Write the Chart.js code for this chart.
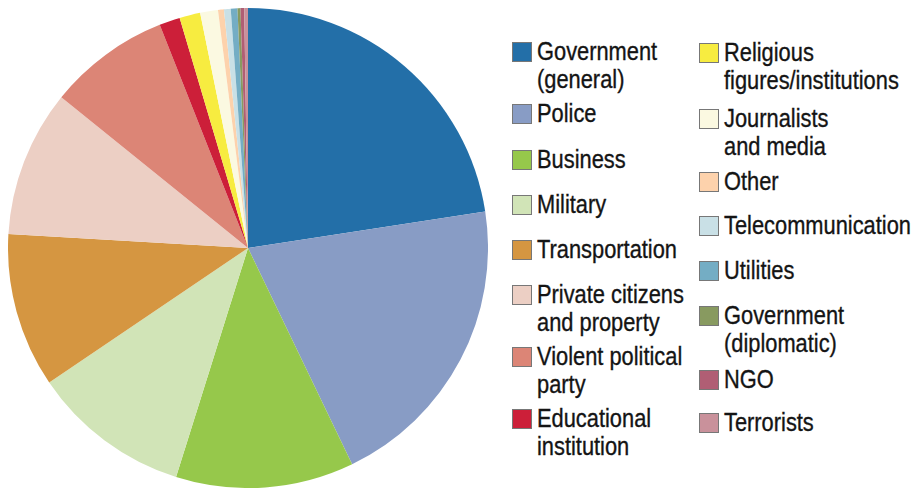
<!DOCTYPE html>
<html>
<head>
<meta charset="utf-8">
<script src="https://cdn.jsdelivr.net/npm/chart.js@4/dist/chart.umd.min.js"></script>
<style>
  html, body { margin: 0; padding: 0; background: #fff; }
  body { width: 918px; height: 488px; position: relative; overflow: hidden; }
  #pie-box { position: absolute; left: 8px; top: 8px; width: 480px; height: 480px; }
  .leg-item { position: absolute; display: flex; align-items: flex-start;
    font-family: "Liberation Sans", Arial, sans-serif;
    font-size: 26px; line-height: 27.5px; color: #141414; white-space: nowrap; }
  .leg-swatch { width: 18px; height: 18px; border: 1px solid #777; margin-top: 4px; margin-right: 5px; flex: none; }
  /* narrow face: compress regular Arial metrics horizontally */
  .leg-text { transform: scaleX(0.84); transform-origin: 0 0; -webkit-text-stroke: 0.35px #141414; }
</style>
</head>
<body>
<div id="pie-box"><canvas id="pieChart"></canvas></div>
<div id="legend"></div>
<script>
// share of targets by category (percent)
var categorias = [
  ['Government', '(general)'], 'Police', 'Business', 'Military', 'Transportation',
  ['Private citizens', 'and property'], ['Violent political', 'party'],
  ['Educational', 'institution'], ['Religious', 'figures/institutions'],
  ['Journalists', 'and media'], 'Other', 'Telecommunication', 'Utilities',
  ['Government', '(diplomatic)'], 'NGO', 'Terrorists'
];
var valores = [22.6, 20.3, 12.0, 10.7, 10.4, 9.9, 8.2, 1.4, 1.4, 1.2, 0.4, 0.45, 0.45, 0.2, 0.25, 0.25];
var cores = [
  '#236fa8', '#889cc5', '#96c84b', '#d1e4b7', '#d59641', '#eccfc4', '#dc8576', '#cc1f39',
  '#f7ec40', '#fbf9e1', '#fdd2ac', '#c9e0e6', '#74adc4', '#889a60', '#b05e74', '#c9919b'
];

// legend layout: two columns, 8 entries each
var colunasX = [512, 699];
var linhasY = [
  [42, 104, 150, 195, 240, 285, 347, 409],
  [43, 109, 172, 216, 261, 306, 370, 413]
];

var legenda = document.getElementById('legend');
categorias.forEach(function (cat, i) {
  var col = i < 8 ? 0 : 1;
  var row = i % 8;
  var item = document.createElement('div');
  item.className = 'leg-item';
  item.style.left = colunasX[col] + 'px';
  item.style.top = (linhasY[col][row] - 4) + 'px';
  var sw = document.createElement('div');
  sw.className = 'leg-swatch';
  sw.style.background = cores[i];
  var txt = document.createElement('div');
  txt.className = 'leg-text';
  txt.innerHTML = (Array.isArray(cat) ? cat : [cat]).join('<br>');
  item.appendChild(sw);
  item.appendChild(txt);
  legenda.appendChild(item);
});

var ctx = document.getElementById('pieChart').getContext('2d');
var meuGrafico = new Chart(ctx, {
  type: 'pie',
  data: {
    labels: categorias,
    datasets: [{
      data: valores,
      backgroundColor: cores,
      borderWidth: 0,
      hoverOffset: 0
    }]
  },
  options: {
    responsive: true,
    maintainAspectRatio: false,
    animation: false,
    layout: { padding: 0 },
    plugins: {
      legend: { display: false },
      tooltip: { enabled: false }
    }
  }
});
</script>
</body>
</html>
